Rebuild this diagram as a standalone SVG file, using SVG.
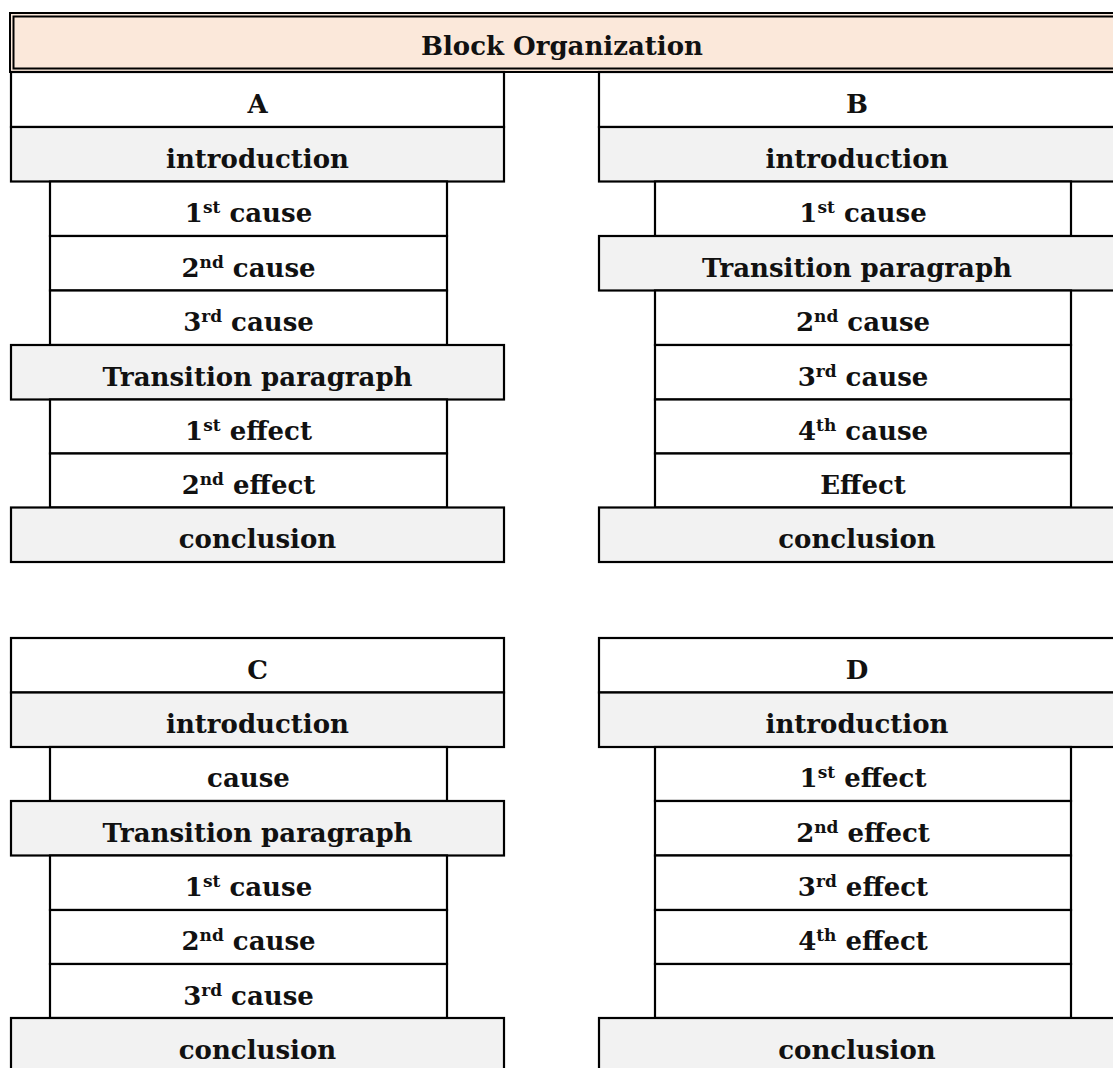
<svg xmlns="http://www.w3.org/2000/svg" width="1113" height="1068" viewBox="0 0 1113 1068">
<style>
.full{stroke:#000;stroke-width:2.2}
.w{fill:#fff}
.g{fill:#f2f2f2}
.t{font-family:"DejaVu Serif","Liberation Serif",serif;font-weight:bold;font-size:26px;fill:#111;text-anchor:middle}
.s{font-size:17px}
</style>
<rect width="1113" height="1068" fill="#fff"/>
<g id="header">
<rect x="10" y="13" width="1120" height="59" fill="#fbe8da" stroke="#000" stroke-width="2"/>
<rect x="13.5" y="16.5" width="1120" height="52" fill="none" stroke="#000" stroke-width="2"/>
<text class="t" x="562" y="55">Block Organization</text>
</g>
<g id="tableA">
<rect class="full w" x="11" y="72" width="493" height="55"/>
<rect class="full g" x="11" y="127" width="493" height="54.5"/>
<rect class="full w" x="50" y="181.5" width="397" height="54.5"/>
<rect class="full w" x="50" y="236" width="397" height="54.5"/>
<rect class="full w" x="50" y="290.5" width="397" height="54.5"/>
<rect class="full g" x="11" y="345" width="493" height="54.5"/>
<rect class="full w" x="50" y="399.5" width="397" height="54"/>
<rect class="full w" x="50" y="453.5" width="397" height="54"/>
<rect class="full g" x="11" y="507.5" width="493" height="54.5"/>
<text class="t" x="257.5" y="113">A</text>
<text class="t" x="257.5" y="168">introduction</text>
<text class="t" x="248.5" y="222">1<tspan class="s" dy="-9">st</tspan><tspan dy="9"> cause</tspan></text>
<text class="t" x="248.5" y="277">2<tspan class="s" dy="-9">nd</tspan><tspan dy="9"> cause</tspan></text>
<text class="t" x="248.5" y="331">3<tspan class="s" dy="-9">rd</tspan><tspan dy="9"> cause</tspan></text>
<text class="t" x="257.5" y="386">Transition paragraph</text>
<text class="t" x="248.5" y="440">1<tspan class="s" dy="-9">st</tspan><tspan dy="9"> effect</tspan></text>
<text class="t" x="248.5" y="494">2<tspan class="s" dy="-9">nd</tspan><tspan dy="9"> effect</tspan></text>
<text class="t" x="257.5" y="548">conclusion</text>
</g>
<g id="tableB">
<rect class="full w" x="599" y="72" width="520" height="55"/>
<rect class="full g" x="599" y="127" width="520" height="54.5"/>
<rect class="full w" x="655" y="181.5" width="416" height="54.5"/>
<rect class="full g" x="599" y="236" width="520" height="54.5"/>
<rect class="full w" x="655" y="290.5" width="416" height="54.5"/>
<rect class="full w" x="655" y="345" width="416" height="54.5"/>
<rect class="full w" x="655" y="399.5" width="416" height="54"/>
<rect class="full w" x="655" y="453.5" width="416" height="54"/>
<rect class="full g" x="599" y="507.5" width="520" height="54.5"/>
<text class="t" x="857" y="113">B</text>
<text class="t" x="857" y="168">introduction</text>
<text class="t" x="863" y="222">1<tspan class="s" dy="-9">st</tspan><tspan dy="9"> cause</tspan></text>
<text class="t" x="857" y="277">Transition paragraph</text>
<text class="t" x="863" y="331">2<tspan class="s" dy="-9">nd</tspan><tspan dy="9"> cause</tspan></text>
<text class="t" x="863" y="386">3<tspan class="s" dy="-9">rd</tspan><tspan dy="9"> cause</tspan></text>
<text class="t" x="863" y="440">4<tspan class="s" dy="-9">th</tspan><tspan dy="9"> cause</tspan></text>
<text class="t" x="863" y="494">Effect</text>
<text class="t" x="857" y="548">conclusion</text>
</g>
<g id="tableC">
<rect class="full w" x="11" y="638" width="493" height="54.5"/>
<rect class="full g" x="11" y="692.5" width="493" height="54.5"/>
<rect class="full w" x="50" y="747" width="397" height="54"/>
<rect class="full g" x="11" y="801" width="493" height="54.5"/>
<rect class="full w" x="50" y="855.5" width="397" height="54.5"/>
<rect class="full w" x="50" y="910" width="397" height="54"/>
<rect class="full w" x="50" y="964" width="397" height="54"/>
<rect class="full g" x="11" y="1018" width="493" height="60"/>
<text class="t" x="257.5" y="679">C</text>
<text class="t" x="257.5" y="733">introduction</text>
<text class="t" x="248.5" y="787">cause</text>
<text class="t" x="257.5" y="842">Transition paragraph</text>
<text class="t" x="248.5" y="896">1<tspan class="s" dy="-9">st</tspan><tspan dy="9"> cause</tspan></text>
<text class="t" x="248.5" y="950">2<tspan class="s" dy="-9">nd</tspan><tspan dy="9"> cause</tspan></text>
<text class="t" x="248.5" y="1005">3<tspan class="s" dy="-9">rd</tspan><tspan dy="9"> cause</tspan></text>
<text class="t" x="257.5" y="1059">conclusion</text>
</g>
<g id="tableD">
<rect class="full w" x="599" y="638" width="520" height="54.5"/>
<rect class="full g" x="599" y="692.5" width="520" height="54.5"/>
<rect class="full w" x="655" y="747" width="416" height="54"/>
<rect class="full w" x="655" y="801" width="416" height="54.5"/>
<rect class="full w" x="655" y="855.5" width="416" height="54.5"/>
<rect class="full w" x="655" y="910" width="416" height="54"/>
<rect class="full w" x="655" y="964" width="416" height="54"/>
<rect class="full g" x="599" y="1018" width="520" height="60"/>
<text class="t" x="857" y="679">D</text>
<text class="t" x="857" y="733">introduction</text>
<text class="t" x="863" y="787">1<tspan class="s" dy="-9">st</tspan><tspan dy="9"> effect</tspan></text>
<text class="t" x="863" y="842">2<tspan class="s" dy="-9">nd</tspan><tspan dy="9"> effect</tspan></text>
<text class="t" x="863" y="896">3<tspan class="s" dy="-9">rd</tspan><tspan dy="9"> effect</tspan></text>
<text class="t" x="863" y="950">4<tspan class="s" dy="-9">th</tspan><tspan dy="9"> effect</tspan></text>
<text class="t" x="857" y="1059">conclusion</text>
</g>
<g id="connectors"></g>
</svg>
